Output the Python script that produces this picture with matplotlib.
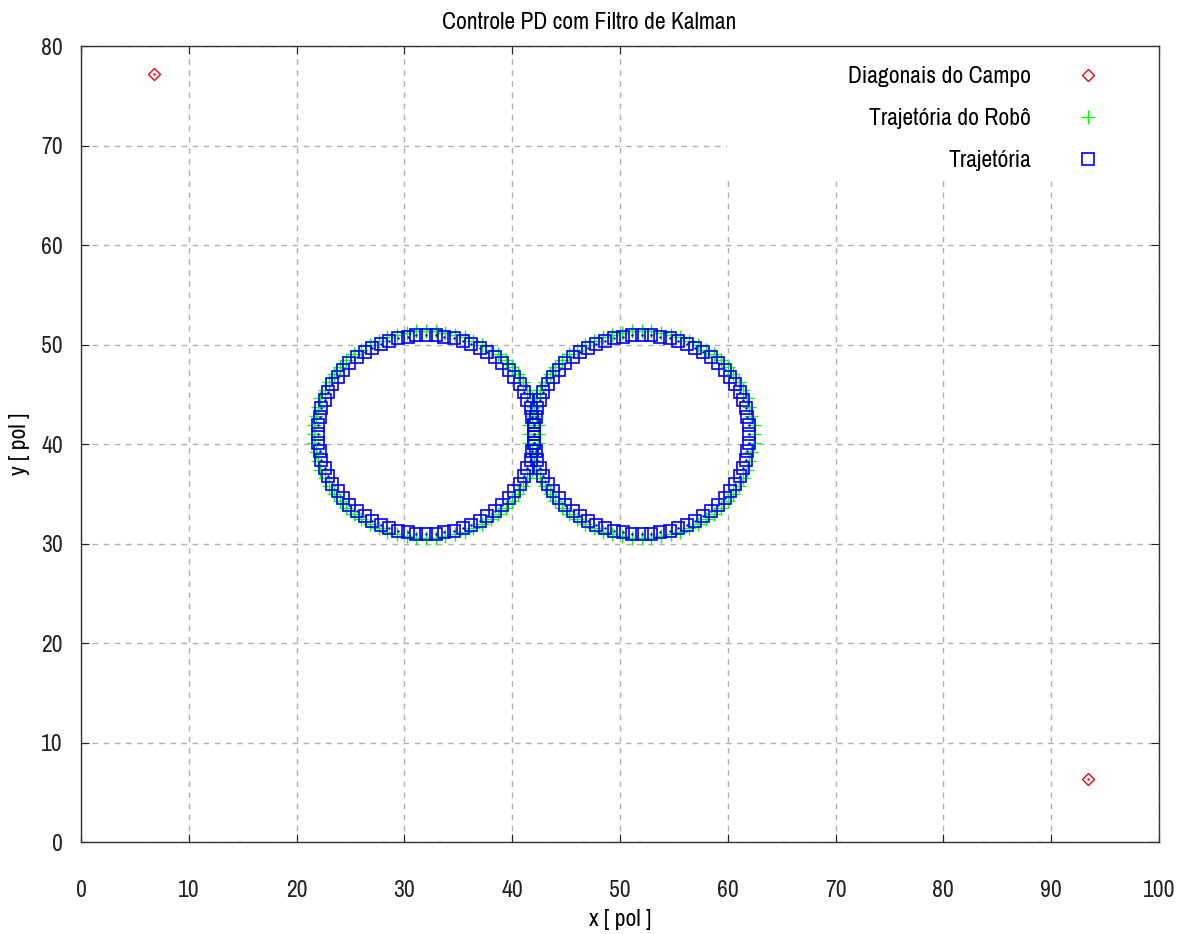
import matplotlib
matplotlib.use("Agg")
import matplotlib.pyplot as plt
from matplotlib.patches import Rectangle

plt.rcParams['font.family'] = ['Archivo Narrow', 'DejaVu Sans']

# field diagonals
diag_x = [6.8, 93.4]
diag_y = [77.2, 6.3]

# reference trajectory (blue squares)
traj_left_x = [42.0, 42.0, 41.8, 41.7, 41.4, 41.1, 40.7, 40.2, 39.7, 39.1, 38.4, 37.7, 37.0, 36.2, 35.4, 34.6, 33.7, 32.9,
               32.0, 31.1, 30.3, 29.4, 28.6, 27.8, 27.0, 26.3, 25.6, 24.9, 24.3, 23.8, 23.3, 22.9, 22.6, 22.3, 22.2, 22.0,
               22.0, 22.0, 22.2, 22.3, 22.6, 22.9, 23.3, 23.8, 24.3, 24.9, 25.6, 26.3, 27.0, 27.8, 28.6, 29.4, 30.3, 31.1,
               32.0, 32.9, 33.7, 34.6, 35.4, 36.2, 37.0, 37.7, 38.4, 39.1, 39.7, 40.2, 40.7, 41.1, 41.4, 41.7, 41.8, 42.0]
traj_right_x = [62.0, 62.0, 61.8, 61.7, 61.4, 61.1, 60.7, 60.2, 59.7, 59.1, 58.4, 57.7, 57.0, 56.2, 55.4, 54.6, 53.7, 52.9,
                52.0, 51.1, 50.3, 49.4, 48.6, 47.8, 47.0, 46.3, 45.6, 44.9, 44.3, 43.8, 43.3, 42.9, 42.6, 42.3, 42.2, 42.0,
                42.0, 42.0, 42.2, 42.3, 42.6, 42.9, 43.3, 43.8, 44.3, 44.9, 45.6, 46.3, 47.0, 47.8, 48.6, 49.4, 50.3, 51.1,
                52.0, 52.9, 53.7, 54.6, 55.4, 56.2, 57.0, 57.7, 58.4, 59.1, 59.7, 60.2, 60.7, 61.1, 61.4, 61.7, 61.8, 62.0]
traj_y = [41.0, 41.9, 42.7, 43.6, 44.4, 45.2, 46.0, 46.7, 47.4, 48.1, 48.7, 49.2, 49.7, 50.1, 50.4, 50.7, 50.8, 51.0,
          51.0, 51.0, 50.8, 50.7, 50.4, 50.1, 49.7, 49.2, 48.7, 48.1, 47.4, 46.7, 46.0, 45.2, 44.4, 43.6, 42.7, 41.9,
          41.0, 40.1, 39.3, 38.4, 37.6, 36.8, 36.0, 35.3, 34.6, 33.9, 33.3, 32.8, 32.3, 31.9, 31.6, 31.3, 31.2, 31.0,
          31.0, 31.0, 31.2, 31.3, 31.6, 31.9, 32.3, 32.8, 33.3, 33.9, 34.6, 35.3, 36.0, 36.8, 37.6, 38.4, 39.3, 40.1]

# robot trajectory (green crosses)
robo_left_x = [42.4, 42.4, 42.2, 42.0, 41.8, 41.4, 41.0, 40.5, 40.0, 39.4, 38.7, 38.0, 37.2, 36.4, 35.6, 34.7, 33.8, 32.9,
               32.0, 31.1, 30.2, 29.3, 28.4, 27.6, 26.8, 26.0, 25.3, 24.6, 24.0, 23.5, 23.0, 22.6, 22.2, 22.0, 21.8, 21.6,
               21.6, 21.6, 21.8, 22.0, 22.2, 22.6, 23.0, 23.5, 24.0, 24.6, 25.3, 26.0, 26.8, 27.6, 28.4, 29.3, 30.2, 31.1,
               32.0, 32.9, 33.8, 34.7, 35.6, 36.4, 37.2, 38.0, 38.7, 39.4, 40.0, 40.5, 41.0, 41.4, 41.8, 42.0, 42.2, 42.4]
robo_right_x = [62.4, 62.4, 62.2, 62.0, 61.8, 61.4, 61.0, 60.5, 60.0, 59.4, 58.7, 58.0, 57.2, 56.4, 55.6, 54.7, 53.8, 52.9,
                52.0, 51.1, 50.2, 49.3, 48.4, 47.6, 46.8, 46.0, 45.3, 44.6, 44.0, 43.5, 43.0, 42.6, 42.2, 42.0, 41.8, 41.6,
                41.6, 41.6, 41.8, 42.0, 42.2, 42.6, 43.0, 43.5, 44.0, 44.6, 45.3, 46.0, 46.8, 47.6, 48.4, 49.3, 50.2, 51.1,
                52.0, 52.9, 53.8, 54.7, 55.6, 56.4, 57.2, 58.0, 58.7, 59.4, 60.0, 60.5, 61.0, 61.4, 61.8, 62.0, 62.2, 62.4]
robo_y = [41.0, 41.9, 42.8, 43.7, 44.6, 45.4, 46.2, 47.0, 47.7, 48.4, 49.0, 49.5, 50.0, 50.4, 50.8, 51.0, 51.2, 51.4,
          51.4, 51.4, 51.2, 51.0, 50.8, 50.4, 50.0, 49.5, 49.0, 48.4, 47.7, 47.0, 46.2, 45.4, 44.6, 43.7, 42.8, 41.9,
          41.0, 40.1, 39.2, 38.3, 37.4, 36.6, 35.8, 35.0, 34.3, 33.6, 33.0, 32.5, 32.0, 31.6, 31.2, 31.0, 30.8, 30.6,
          30.6, 30.6, 30.8, 31.0, 31.2, 31.6, 32.0, 32.5, 33.0, 33.6, 34.3, 35.0, 35.8, 36.6, 37.4, 38.3, 39.2, 40.1]

xticks = [0, 10, 20, 30, 40, 50, 60, 70, 80, 90, 100]
yticks = [0, 10, 20, 30, 40, 50, 60, 70, 80]

fig = plt.figure(figsize=(11.86, 9.34), dpi=100)
ax = fig.add_axes([0.0683, 0.0985, 0.9089, 0.8522])

ax.plot(robo_left_x + robo_right_x, robo_y + robo_y, linestyle='none', marker='+',
        color='#00ff00', markersize=10, markeredgewidth=1.0, label='Trajetória do Robô', zorder=3)
ax.plot(traj_left_x + traj_right_x, traj_y + traj_y, linestyle='none', marker='s', fillstyle='none',
        color='#0000ff', markersize=9, markeredgewidth=1.2, label='Trajetória', zorder=4)
ax.plot(traj_left_x + traj_right_x, traj_y + traj_y, linestyle='none', marker='.',
        color='#0000ff', markersize=1.5, zorder=4)
ax.plot(diag_x, diag_y, linestyle='none', marker='D', fillstyle='none',
        color='#ff0000', markersize=6, markeredgewidth=1.0, label='Diagonais do Campo', zorder=5)
ax.plot(diag_x, diag_y, linestyle='none', marker='.', color='#ff0000', markersize=1.5, zorder=5)

# white key area, like gnuplot
ax.add_patch(Rectangle((0.599, 0.833), 0.401, 0.167, transform=ax.transAxes,
                       facecolor='white', edgecolor='none', zorder=1))

ax.set_xlim(0, 100)
ax.set_ylim(0, 80)
ax.set_xticks(xticks)
ax.set_yticks(yticks)
ax.tick_params(direction='in', top=True, right=True, length=6, labelsize=17, colors='#222222')
ax.tick_params(axis='x', pad=27)
ax.tick_params(axis='y', pad=13)
ax.grid(True, color='#b0b0b0', linestyle=(0, (4, 4)), linewidth=1.0, zorder=0)
ax.set_axisbelow(True)
for s in ax.spines.values():
    s.set_color('#333333')
    s.set_linewidth(1.0)
    s.set_zorder(6)

# gnuplot centres the title on the canvas
fig.text(0.4966, 0.976, 'Controle PD com Filtro de Kalman', fontsize=17, ha='center', va='center')
ax.set_xlabel('x [ pol ]', fontsize=17, labelpad=6)
ax.set_ylabel('y [ pol ]', fontsize=17, labelpad=8)

h, l = ax.get_legend_handles_labels()
order = [2, 0, 1]
leg = ax.legend([h[i] for i in order], [l[i] for i in order], loc='upper right',
                bbox_to_anchor=(0.956, 0.975), markerfirst=False, fontsize=17,
                labelspacing=0.9, frameon=False, borderpad=0.0,
                handletextpad=1.4, handlelength=2.0, borderaxespad=0.0)
for t in leg.get_texts():
    t.set_ha('right')
leg.set_zorder(10)

fig.savefig('out.png', dpi=100)
